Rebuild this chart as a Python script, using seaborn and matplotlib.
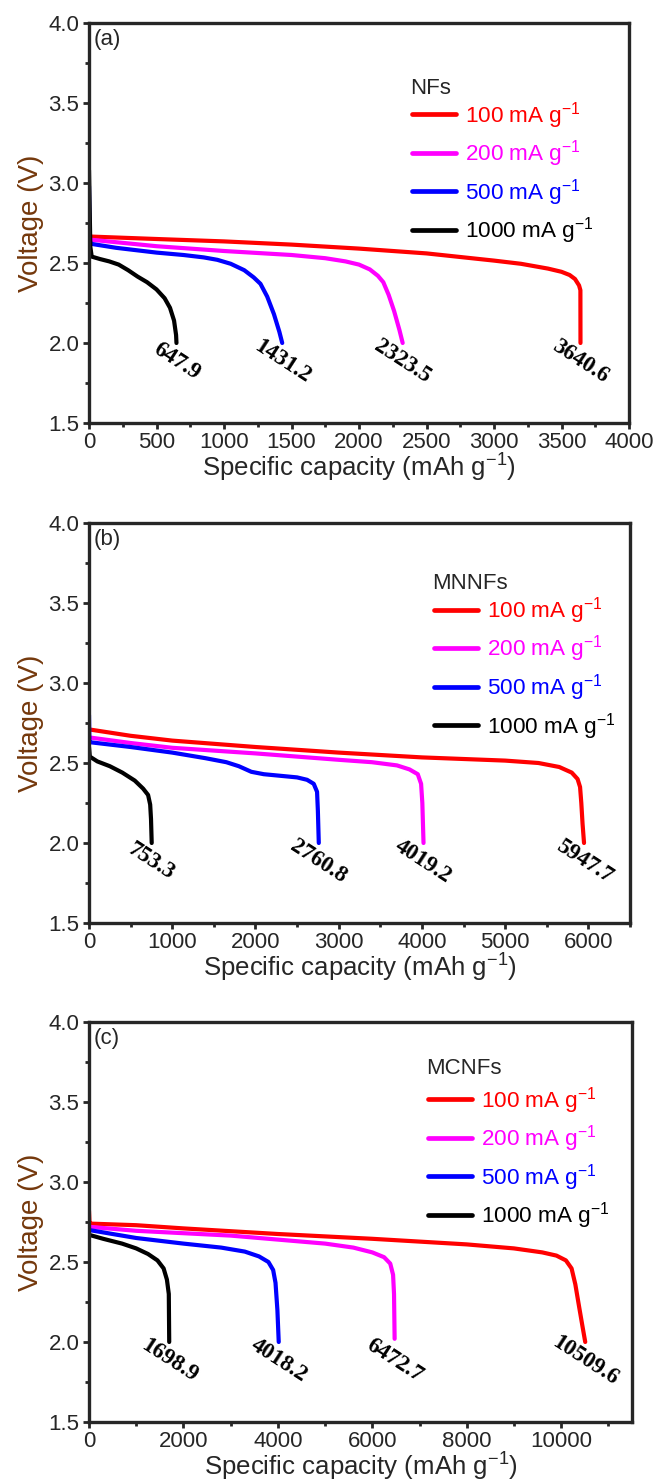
import numpy as np
import pandas as pd
import matplotlib
matplotlib.use("Agg")
import matplotlib.pyplot as plt
from matplotlib.ticker import MultipleLocator, FormatStrFormatter
from matplotlib.lines import Line2D
import seaborn as sns

# ---------------- data ----------------
rates = ["100", "200", "500", "1000"]
rate_labels = [r"100 mA g$^{-1}$", r"200 mA g$^{-1}$", r"500 mA g$^{-1}$", r"1000 mA g$^{-1}$"]
colors = ["#FF0000", "#FF00FF", "#0000FF", "#000000"]

# Panel (a) NFs
a_cap_100 = [0, 0, 20, 500, 1000, 1500, 2000, 2500, 3000, 3200, 3400, 3500, 3560, 3600, 3630, 3640, 3640.6]
a_v_100 = [2.70, 2.67, 2.665, 2.65, 2.635, 2.615, 2.59, 2.56, 2.515, 2.495, 2.465, 2.445, 2.425, 2.40, 2.36, 2.33, 2.0]
a_cap_200 = [0, 0, 20, 500, 1000, 1500, 1750, 1900, 2000, 2080, 2140, 2180, 2220, 2260, 2300, 2323.5]
a_v_200 = [2.72, 2.65, 2.645, 2.605, 2.575, 2.55, 2.53, 2.51, 2.49, 2.46, 2.42, 2.38, 2.30, 2.20, 2.08, 2.0]
a_cap_500 = [0, 5, 15, 200, 500, 700, 850, 950, 1050, 1150, 1220, 1270, 1320, 1370, 1410, 1431.2]
a_v_500 = [2.98, 2.64, 2.62, 2.595, 2.565, 2.55, 2.535, 2.52, 2.495, 2.455, 2.41, 2.37, 2.29, 2.18, 2.07, 2.0]
a_cap_1000 = [0, 10, 20, 80, 150, 220, 290, 360, 430, 500, 560, 600, 630, 645, 647.9]
a_v_1000 = [3.08, 2.60, 2.54, 2.525, 2.51, 2.49, 2.455, 2.415, 2.38, 2.335, 2.28, 2.22, 2.14, 2.05, 2.0]
a_ends = ["647.9", "1431.2", "2323.5", "3640.6"]
a_end_x = [647.9, 1431.2, 2323.5, 3640.6]

# Panel (b) MNNFs
b_cap_100 = [0, 500, 1000, 2000, 3000, 4000, 5000, 5400, 5650, 5800, 5870, 5900, 5915, 5930, 5947.7]
b_v_100 = [2.71, 2.67, 2.64, 2.60, 2.565, 2.535, 2.515, 2.50, 2.475, 2.44, 2.40, 2.35, 2.25, 2.12, 2.0]
b_cap_200 = [0, 500, 1000, 2000, 3000, 3400, 3700, 3850, 3950, 3990, 4005, 4019.2]
b_v_200 = [2.66, 2.625, 2.595, 2.56, 2.52, 2.505, 2.485, 2.46, 2.43, 2.37, 2.25, 2.0]
b_cap_500 = [0, 5, 10, 500, 1000, 1400, 1650, 1800, 1950, 2100, 2300, 2500, 2620, 2700, 2740, 2750, 2760.8]
b_v_500 = [2.80, 2.64, 2.63, 2.60, 2.565, 2.53, 2.505, 2.48, 2.445, 2.43, 2.42, 2.41, 2.395, 2.37, 2.32, 2.20, 2.0]
b_cap_1000 = [0, 10, 100, 250, 400, 550, 650, 710, 735, 745, 753.3]
b_v_1000 = [2.60, 2.54, 2.51, 2.48, 2.44, 2.39, 2.34, 2.30, 2.24, 2.15, 2.0]
b_ends = ["753.3", "2760.8", "4019.2", "5947.7"]
b_end_x = [753.3, 2760.8, 4019.2, 5947.7]

# Panel (c) MCNFs
c_cap_100 = [0, 10, 20, 1000, 2000, 4000, 6000, 8000, 9000, 9600, 9900, 10100, 10220, 10300, 10380, 10450, 10509.6]
c_v_100 = [2.82, 2.75, 2.74, 2.73, 2.71, 2.675, 2.645, 2.61, 2.585, 2.56, 2.54, 2.51, 2.46, 2.36, 2.22, 2.10, 2.0]
c_cap_200 = [0, 1000, 2000, 3000, 4000, 5000, 5600, 6000, 6250, 6380, 6440, 6460, 6472.7]
c_v_200 = [2.72, 2.695, 2.68, 2.665, 2.64, 2.615, 2.59, 2.56, 2.53, 2.49, 2.42, 2.30, 2.02]
c_cap_500 = [0, 500, 1000, 2000, 2800, 3300, 3600, 3800, 3900, 3950, 3990, 4018.2]
c_v_500 = [2.70, 2.675, 2.65, 2.615, 2.59, 2.565, 2.535, 2.50, 2.45, 2.37, 2.20, 2.0]
c_cap_1000 = [0, 300, 700, 1000, 1250, 1450, 1580, 1650, 1690, 1698.9]
c_v_1000 = [2.67, 2.645, 2.615, 2.585, 2.55, 2.51, 2.46, 2.39, 2.30, 2.0]
c_ends = ["1698.9", "4018.2", "6472.7", "10509.6"]
c_end_x = [1698.9, 4018.2, 6472.7, 10509.6]

panel_tags = ["(a)", "(b)", "(c)"]
legend_titles = ["NFs", "MNNFs", "MCNFs"]
xlims = [4000, 6500, 11500]
xmajor = [500, 1000, 2000]


def make_df(caps, vols):
    frames = []
    for r, c, v in zip(rates, caps, vols):
        frames.append(pd.DataFrame({"cap": c, "V": v, "rate": r}))
    return pd.concat(frames, ignore_index=True)


dfs = [
    make_df([a_cap_100, a_cap_200, a_cap_500, a_cap_1000], [a_v_100, a_v_200, a_v_500, a_v_1000]),
    make_df([b_cap_100, b_cap_200, b_cap_500, b_cap_1000], [b_v_100, b_v_200, b_v_500, b_v_1000]),
    make_df([c_cap_100, c_cap_200, c_cap_500, c_cap_1000], [c_v_100, c_v_200, c_v_500, c_v_1000]),
]
ends_lab = [a_ends, b_ends, c_ends]
ends_x = [a_end_x, b_end_x, c_end_x]

# ---------------- style ----------------
sns.set_style("ticks")
plt.rcParams["font.family"] = ["Liberation Sans", "DejaVu Sans"]
plt.rcParams["mathtext.fontset"] = "custom"
plt.rcParams["mathtext.rm"] = "Liberation Sans"
plt.rcParams["mathtext.it"] = "Liberation Sans:italic"
plt.rcParams["mathtext.bf"] = "Liberation Sans:bold"

fig = plt.figure(figsize=(6.59, 14.82), dpi=100)
W, H = 659, 1482
boxes = [(89, 23, 540, 400), (89, 523, 541, 400), (89, 1022, 543, 400)]
leg_anchor = [(0.598, 0.808), (0.638, 0.820), (0.624, 0.843)]
title_pos = [(0.594, 0.835), (0.634, 0.85), (0.621, 0.8825)]
palette = dict(zip(rates, colors))

for i in range(3):
    x0, y0, w, h = boxes[i]
    ax = fig.add_axes([x0 / W, 1 - (y0 + h) / H, w / W, h / H])
    sns.lineplot(data=dfs[i], x="cap", y="V", hue="rate", palette=palette,
                 units="rate", estimator=None, sort=False, lw=3.0, ax=ax, legend=False)
    ax.set_xlim(0, xlims[i])
    ax.set_ylim(1.5, 4.0)
    ax.xaxis.set_major_locator(MultipleLocator(xmajor[i]))
    ax.xaxis.set_minor_locator(MultipleLocator(xmajor[i] / 2))
    ax.yaxis.set_major_locator(MultipleLocator(0.5))
    ax.yaxis.set_minor_locator(MultipleLocator(0.25))
    ax.yaxis.set_major_formatter(FormatStrFormatter("%.1f"))
    for s in ax.spines.values():
        s.set_linewidth(2.4)
        s.set_visible(True)
    ax.tick_params(which="major", direction="out", length=4.5, width=2, labelsize=16, pad=2.5)
    ax.tick_params(which="minor", direction="out", length=2.8, width=2)
    ax.tick_params(axis="x", which="major", pad=2)
    ax.set_xlabel(r"Specific capacity (mAh g$^{-1}$)", fontsize=18.6, labelpad=-1)
    ax.set_ylabel("Voltage (V)", fontsize=20, color="#74380c", labelpad=3)
    ax.text(0.008, 0.985, panel_tags[i], transform=ax.transAxes, fontsize=16, ha="left", va="top")

    # end-capacity annotations
    for lab, ex in zip(ends_lab[i], ends_x[i]):
        ax.text(ex, 1.885, lab, rotation=-33, rotation_mode="anchor", ha="center", va="center",
                fontsize=16.5, fontweight="bold", family="Liberation Serif", color="black")

    handles = [Line2D([], [], color=c, lw=3.4) for c in colors]
    leg = ax.legend(handles, rate_labels, loc="upper left",
                    bbox_to_anchor=leg_anchor[i], frameon=False, fontsize=16.2,
                    handlelength=1.96, handletextpad=0.4, labelspacing=0.34, borderpad=0,
                    borderaxespad=0)
    for t, c in zip(leg.get_texts(), colors):
        t.set_color(c)
    ax.text(title_pos[i][0], title_pos[i][1], legend_titles[i], transform=ax.transAxes,
            fontsize=16, ha="left", va="center")

fig.savefig("out.png", dpi=100)
